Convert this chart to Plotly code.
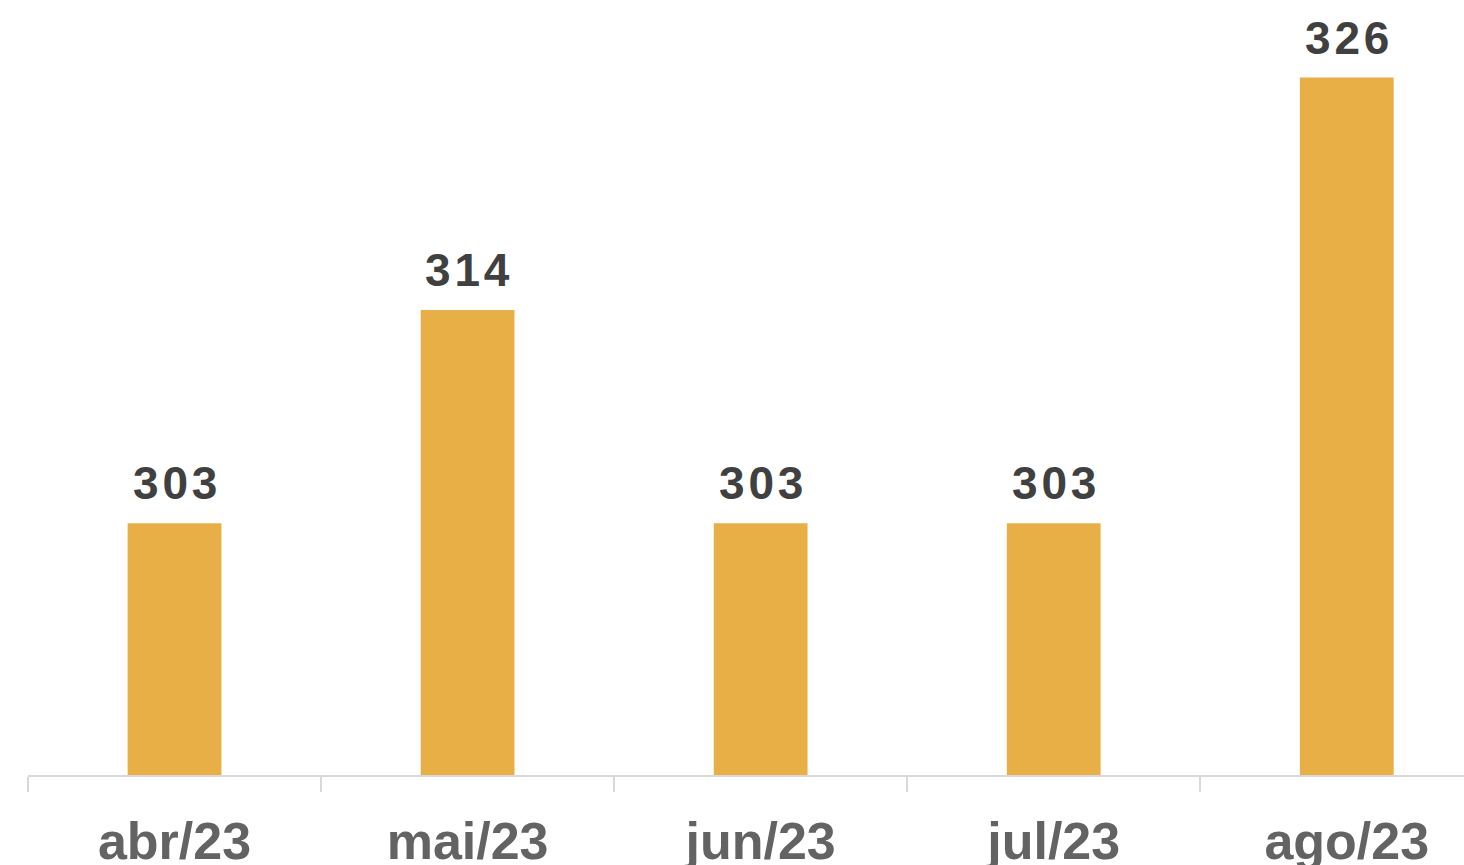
import plotly.graph_objects as go

categories = ["abr/23", "mai/23", "jun/23", "jul/23", "ago/23"]
values = [303, 314, 303, 303, 326]

bar_color = "#E9AF47"

fig = go.Figure()
fig.add_trace(go.Bar(
    x=categories, y=values,
    marker=dict(color=bar_color, line=dict(width=0)),
    width=0.32,
    hoverinfo="skip",
))

for c, v in zip(categories, values):
    fig.add_annotation(
        x=c, y=v, text="\u200a".join(str(v)), showarrow=False,
        yanchor="bottom", yshift=12,
        font=dict(family="Liberation Sans, Arial", size=46, color="#404040", weight="bold"),
    )

fig.update_layout(
    width=1464, height=865,
    margin=dict(l=28, r=0, t=0, b=90),
    paper_bgcolor="white", plot_bgcolor="white",
    showlegend=False,
    xaxis=dict(
        type="category",
        range=[-0.5, 4.4],
        automargin=False,
        showline=True, linecolor="#D9D9D9", linewidth=2,
        ticks="outside", tickson="boundaries", ticklen=15,
        tickcolor="#D9D9D9", tickwidth=2,
        showgrid=False,
        tickfont=dict(family="Liberation Sans, Arial", size=52, color="#636363", weight="bold"),
        ticklabelstandoff=20,
    ),
    yaxis=dict(
        range=[290, 330],
        visible=False,
        showgrid=False,
        zeroline=False,
        automargin=False,
    ),
)

fig.write_html(
    "out.html",
    config={"displayModeBar": False},
    post_script="document.body.style.margin='0';document.body.style.overflow='hidden';",
)
